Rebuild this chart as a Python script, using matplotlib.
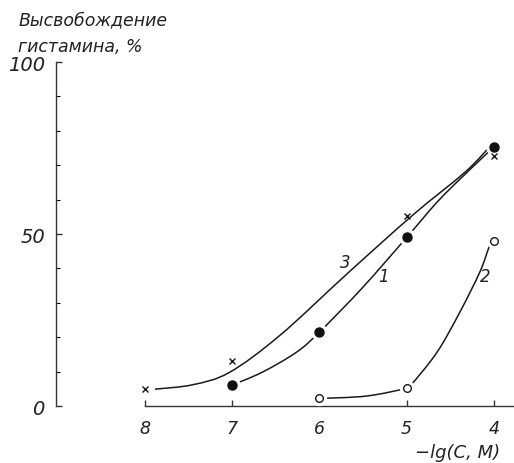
import numpy as np
import matplotlib
matplotlib.use("Agg")
import matplotlib.pyplot as plt
from matplotlib.path import Path
from matplotlib.patches import PathPatch

# measured points (markers)
x3_pts = [8, 7, 5, 4]
y3_pts = [5.0, 13.2, 55.2, 72.7]
x1_pts = [7, 6, 5, 4]
y1_pts = [6.1, 21.5, 49.0, 75.3]
x2_pts = [6, 5, 4]
y2_pts = [2.2, 5.2, 48.0]

# hand-drawn fitted curves (knots)
x3_line = [7.885, 7.45, 7.03, 6.45, 5.68, 4.93, 4.33, 4.05]
y3_line = [4.9, 6.2, 9.8, 20.6, 38.5, 55.5, 68.0, 75.3]
x1_line = [7.0, 6.65, 6.26, 6.0, 5.51, 5.0, 4.65, 4.33, 4.0]
y1_line = [6.1, 9.9, 15.7, 21.5, 34.3, 49.0, 59.3, 67.4, 75.3]
x2_line = [6.0, 5.46, 5.0, 4.94, 4.65, 4.39, 4.16, 4.05, 4.0]
y2_line = [2.2, 2.9, 5.2, 6.4, 15.7, 27.3, 39.0, 46.5, 48.0]

x_ticks = [8, 7, 6, 5, 4]
y_ticks = [0, 50, 100]
curve_labels = [("3", 5.70, 41.9), ("1", 5.27, 37.8), ("2", 4.10, 37.8)]

LABEL_FONT = ["Liberation Sans Narrow", "DejaVu Sans"]


def smooth_path(xs, ys):
    # Catmull-Rom through the knots, as cubic Bezier segments
    pts = np.column_stack([xs, ys]).astype(float)
    n = len(pts)
    verts, codes = [pts[0]], [Path.MOVETO]
    for i in range(n - 1):
        p0, p1 = pts[max(i - 1, 0)], pts[i]
        p2, p3 = pts[i + 1], pts[min(i + 2, n - 1)]
        verts += [p1 + (p2 - p0) / 6, p2 - (p3 - p1) / 6, p2]
        codes += [Path.CURVE4] * 3
    return Path(verts, codes)


fig = plt.figure(figsize=(5.14, 4.64), dpi=100)
ax = fig.add_axes([0.1089, 0.1228, 0.891, 0.7414])
ax.set_xlim(9.02, 3.77)
ax.set_ylim(0, 100)

for xs, ys in [(x3_line, y3_line), (x1_line, y1_line), (x2_line, y2_line)]:
    ax.add_patch(PathPatch(smooth_path(xs, ys), fill=False, lw=1.1,
                           edgecolor="#1a1a1a", zorder=2))

# white halos leave the small gaps round the points, as in the drawing
ax.plot(x3_pts, y3_pts, ls="none", marker="x", ms=5, mew=1.0, color="#1a1a1a", zorder=4)
ax.plot(x1_pts, y1_pts, ls="none", marker="o", ms=11, color="white", zorder=3)
ax.plot(x1_pts, y1_pts, ls="none", marker="o", ms=6.5, color="#111111", zorder=4)
ax.plot(x2_pts, y2_pts, ls="none", marker="o", ms=10, color="white", zorder=3)
ax.plot(x2_pts, y2_pts, ls="none", marker="o", ms=5.5, mfc="white", mec="#1a1a1a",
        mew=1.0, zorder=4)

for txt, lx, ly in curve_labels:
    ax.text(lx, ly, txt, fontsize=12, style="italic", family=LABEL_FONT,
            ha="center", va="center", color="#222222")

for s in ["top", "right"]:
    ax.spines[s].set_visible(False)
ax.spines["left"].set_bounds(0, 100)
ax.spines["bottom"].set_bounds(8, 3.77)
for s in ["left", "bottom"]:
    ax.spines[s].set_linewidth(1.0)
    ax.spines[s].set_color("#333333")

ax.set_xticks(x_ticks)
ax.set_xticklabels([str(v) for v in x_ticks])
ax.set_yticks(y_ticks)
ax.set_yticklabels([str(v) for v in y_ticks])
ax.set_yticks(np.arange(0, 101, 10), minor=True)
ax.tick_params(axis="x", direction="in", length=4, width=1.0, pad=9, colors="#333333")
ax.tick_params(axis="y", which="major", direction="in", length=4, width=1.0, pad=8,
               colors="#333333")
ax.tick_params(axis="y", which="minor", direction="in", length=3, width=0.8)
for lab in ax.get_xticklabels():
    lab.set_fontfamily(LABEL_FONT)
    lab.set_fontstyle("italic")
    lab.set_fontsize(12.5)
    lab.set_color("#222222")
for lab in ax.get_yticklabels():
    lab.set_fontfamily(LABEL_FONT)
    lab.set_fontstyle("italic")
    lab.set_fontsize(14)
    lab.set_color("#222222")

fig.text(500 / 514, 1 - 453 / 464, "\u2212lg(C, M)", ha="right", va="center",
         fontsize=13, style="italic", family=LABEL_FONT, color="#222222")
fig.text(19 / 514, 1 - 25 / 464, "Высвобождение", ha="left", va="baseline",
         fontsize=12.5, style="italic", family=["DejaVu Sans"], color="#222222")
fig.text(18 / 514, 1 - 52 / 464, "гистамина, %", ha="left", va="baseline",
         fontsize=12.5, style="italic", family=["DejaVu Sans"], color="#222222")

fig.savefig("out.png", dpi=100)
